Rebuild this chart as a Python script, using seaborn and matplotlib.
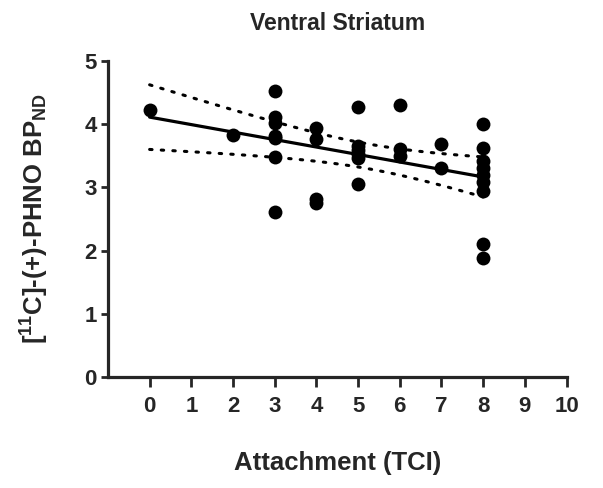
import numpy as np
import pandas as pd
import seaborn as sns
import matplotlib.pyplot as plt

# values
tci = [0, 2,
       3, 3, 3, 3, 3, 3, 3,
       4, 4, 4, 4,
       5, 5, 5, 5, 5, 5,
       6, 6, 6,
       7, 7,
       8, 8, 8, 8, 8, 8, 8, 8, 8]
phno = [4.23, 3.83,
        4.52, 4.12, 4.02, 3.81, 3.78, 3.48, 2.61,
        3.94, 3.77, 2.82, 2.76,
        4.28, 3.66, 3.59, 3.53, 3.47, 3.05,
        4.30, 3.61, 3.49,
        3.68, 3.30,
        4.01, 3.63, 3.42, 3.31, 3.19, 3.08, 2.95, 2.10, 1.88]

df = pd.DataFrame({"TCI": tci, "BP": phno})

sns.set_style("ticks")
plt.rcParams["font.family"] = ["Liberation Sans", "DejaVu Sans"]
plt.rcParams["font.weight"] = "bold"
plt.rcParams["mathtext.fontset"] = "custom"
plt.rcParams["mathtext.rm"] = "Liberation Sans:bold"
plt.rcParams["mathtext.bf"] = "Liberation Sans:bold"
plt.rcParams["mathtext.default"] = "bf"

fig = plt.figure(figsize=(6.03, 4.88), dpi=100)
ax = fig.add_axes([0.179, 0.2275, 0.7605, 0.6475])

sns.regplot(data=df, x="TCI", y="BP", ax=ax, ci=None, truncate=True,
            scatter_kws=dict(s=100, color="black", alpha=1, linewidths=0),
            line_kws=dict(color="black", lw=2.3))

# 95% confidence band of the fit, drawn as dotted lines
x = np.asarray(tci, float)
y = np.asarray(phno, float)
n = len(x)
b1, b0 = np.polyfit(x, y, 1)
resid = y - (b0 + b1 * x)
s = np.sqrt(np.sum(resid ** 2) / (n - 2))
xg = np.linspace(x.min(), x.max(), 100)
se = s * np.sqrt(1 / n + (xg - x.mean()) ** 2 / np.sum((x - x.mean()) ** 2))
t = 2.04
yfit = b0 + b1 * xg
for band in (yfit + t * se, yfit - t * se):
    ax.plot(xg, band, color="black", lw=2.2, linestyle=(0, (0.8, 3)),
            dash_capstyle="round")

ax.set_xlim(-1, 10)
ax.set_ylim(0, 5)
ax.set_xticks(range(0, 11))
ax.set_yticks(range(0, 6))
ax.tick_params(width=2, labelsize=16, direction="out")
ax.tick_params(axis="x", length=7, pad=7)
ax.tick_params(axis="y", length=5, pad=3)
for lab in ax.get_xticklabels() + ax.get_yticklabels():
    lab.set_fontweight("bold")
for sp in ["left", "bottom"]:
    ax.spines[sp].set_linewidth(2.3)
sns.despine(ax=ax)

ax.set_xlabel("Attachment (TCI)", fontsize=18.5, fontweight="bold", labelpad=24)
ax.set_ylabel(r"[$^{11}$C]-(+)-PHNO BP$_{ND}$", fontsize=18.5,
              fontweight="bold", labelpad=24)
ax.set_title("Ventral Striatum", fontsize=16.5, fontweight="bold", pad=22)

fig.savefig("out.png", dpi=100)
